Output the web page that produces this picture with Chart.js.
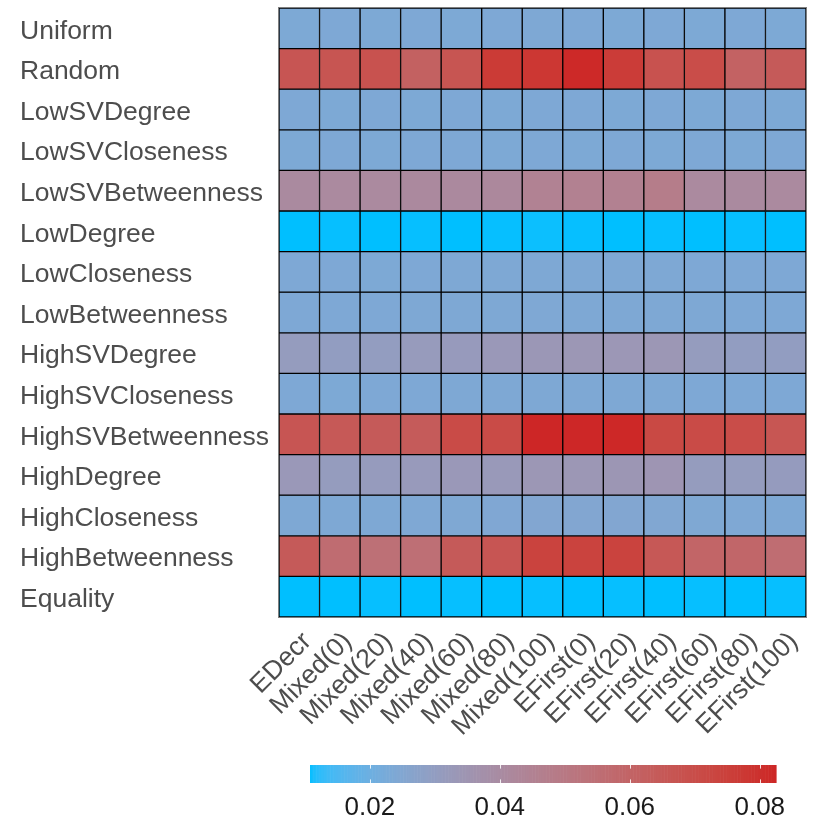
<!DOCTYPE html>
<html><head><meta charset="utf-8">
<script src="https://cdn.jsdelivr.net/npm/chart.js@4"></script>
<style>
html,body{margin:0;padding:0;background:#fff;}
#wrap{position:relative;width:830px;height:830px;}
#main{position:absolute;left:0;top:0;}
#bar{position:absolute;left:0;top:740px;}
</style></head><body>
<div id="wrap"><canvas id="main" width="830" height="830"></canvas><canvas id="bar" width="830" height="90"></canvas></div>
<script>
const columns = ['EDecr','Mixed(0)','Mixed(20)','Mixed(40)','Mixed(60)','Mixed(80)','Mixed(100)','EFirst(0)','EFirst(20)','EFirst(40)','EFirst(60)','EFirst(80)','EFirst(100)'];
const rows = ['Uniform','Random','LowSVDegree','LowSVCloseness','LowSVBetweenness','LowDegree','LowCloseness','LowBetweenness','HighSVDegree','HighSVCloseness','HighSVBetweenness','HighDegree','HighCloseness','HighBetweenness','Equality'];

const uniform           = [0.0237,0.0238,0.0237,0.0238,0.0237,0.0238,0.0239,0.0238,0.0237,0.0238,0.0237,0.0238,0.0237];
const random            = [0.0667,0.0670,0.0680,0.0617,0.0670,0.0768,0.0780,0.0818,0.0763,0.0682,0.0703,0.0610,0.0646];
const lowSVDegree       = [0.0238,0.0237,0.0238,0.0237,0.0238,0.0237,0.0238,0.0238,0.0237,0.0238,0.0237,0.0238,0.0237];
const lowSVCloseness    = [0.0237,0.0238,0.0237,0.0238,0.0238,0.0237,0.0238,0.0237,0.0238,0.0237,0.0238,0.0237,0.0238];
const lowSVBetweenness  = [0.0408,0.0410,0.0410,0.0412,0.0414,0.0418,0.0450,0.0455,0.0455,0.0478,0.0410,0.0408,0.0409];
const lowDegree         = [0.0108,0.0109,0.0108,0.0109,0.0108,0.0109,0.0110,0.0109,0.0108,0.0109,0.0108,0.0109,0.0108];
const lowCloseness      = [0.0238,0.0238,0.0237,0.0238,0.0239,0.0239,0.0240,0.0240,0.0239,0.0239,0.0238,0.0238,0.0238];
const lowBetweenness    = [0.0238,0.0238,0.0238,0.0239,0.0240,0.0240,0.0241,0.0240,0.0240,0.0240,0.0239,0.0238,0.0238];
const highSVDegree      = [0.0309,0.0300,0.0302,0.0316,0.0317,0.0330,0.0334,0.0337,0.0336,0.0337,0.0309,0.0300,0.0301];
const highSVCloseness   = [0.0238,0.0237,0.0238,0.0238,0.0239,0.0239,0.0240,0.0239,0.0239,0.0239,0.0238,0.0238,0.0238];
const highSVBetweenness = [0.0667,0.0653,0.0646,0.0643,0.0710,0.0710,0.0825,0.0822,0.0820,0.0718,0.0710,0.0703,0.0665];
const highDegree        = [0.0330,0.0310,0.0313,0.0320,0.0328,0.0326,0.0337,0.0338,0.0340,0.0345,0.0310,0.0310,0.0311];
const highCloseness     = [0.0240,0.0240,0.0240,0.0241,0.0242,0.0244,0.0250,0.0250,0.0250,0.0248,0.0242,0.0241,0.0240];
const highBetweenness   = [0.0646,0.0563,0.0545,0.0550,0.0645,0.0667,0.0739,0.0740,0.0740,0.0655,0.0596,0.0590,0.0560];
const equality          = [0.0108,0.0108,0.0109,0.0108,0.0109,0.0108,0.0109,0.0108,0.0109,0.0108,0.0109,0.0108,0.0109];

const colorbarTicks = [0.02,0.04,0.06,0.08];

const rowValues = [uniform,random,lowSVDegree,lowSVCloseness,lowSVBetweenness,lowDegree,lowCloseness,lowBetweenness,highSVDegree,highSVCloseness,highSVBetweenness,highDegree,highCloseness,highBetweenness,equality];
const allVals = rowValues.flat();
const vmin = Math.min(...allVals), vmax = Math.max(...allVals);

// Lab interpolation (deepskyblue -> firebrick3)
function toLin(c){c/=255;return c<=0.04045?c/12.92:Math.pow((c+0.055)/1.055,2.4);}
function toS(c){c=c<=0.0031308?12.92*c:1.055*Math.pow(c,1/2.4)-0.055;return Math.round(Math.max(0,Math.min(1,c))*255);}
const Wn=[0.95047,1,1.08883];
function fLab(t){return t>0.008856?Math.cbrt(t):7.787*t+16/116;}
function fInv(t){const t3=t*t*t;return t3>0.008856?t3:(t-16/116)/7.787;}
function rgb2lab(c){const r=toLin(c[0]),g=toLin(c[1]),b=toLin(c[2]);
  const X=(0.4124*r+0.3576*g+0.1805*b)/Wn[0],Y=(0.2126*r+0.7152*g+0.0722*b)/Wn[1],Z=(0.0193*r+0.1192*g+0.9505*b)/Wn[2];
  const fx=fLab(X),fy=fLab(Y),fz=fLab(Z);return [116*fy-16,500*(fx-fy),200*(fy-fz)];}
function lab2rgb(l){const fy=(l[0]+16)/116,fx=fy+l[1]/500,fz=fy-l[2]/200;
  const X=fInv(fx)*Wn[0],Y=fInv(fy)*Wn[1],Z=fInv(fz)*Wn[2];
  const r=3.2406*X-1.5372*Y-0.4986*Z,g=-0.9689*X+1.8758*Y+0.0415*Z,b=0.0557*X-0.2040*Y+1.0570*Z;
  return [toS(r),toS(g),toS(b)];}
const labLow=rgb2lab([0,191,255]), labHigh=rgb2lab([205,38,38]);
function colorFor(v){let t=(v-vmin)/(vmax-vmin);t=Math.max(0,Math.min(1,t));
  const c=lab2rgb([0,1,2].map(k=>labLow[k]+(labHigh[k]-labLow[k])*t));return `rgb(${c[0]},${c[1]},${c[2]})`;}

const FONT='"Liberation Sans", Arial, sans-serif';

const framePlugin={id:'frame',afterDatasetsDraw(chart){const a=chart.chartArea,ctx=chart.ctx;ctx.save();
  ctx.strokeStyle='#7f7f7f';ctx.lineWidth=1;ctx.strokeRect(a.left-0.5,a.top-0.5,a.right-a.left+1,a.bottom-a.top+1);ctx.restore();}};

new Chart(document.getElementById('main'),{
  type:'bar',
  data:{labels:columns,datasets:rows.map((r,i)=>({label:r,data:columns.map(()=>1),backgroundColor:rowValues[i].map(colorFor),
    borderColor:'#000',borderWidth:1,borderSkipped:false,categoryPercentage:1,barPercentage:1,stack:'s'}))},
  options:{responsive:false,animation:false,devicePixelRatio:1,
    layout:{padding:{left:20,right:24,top:8,bottom:0}},
    plugins:{legend:{display:false},tooltip:{enabled:false}},
    scales:{
      x:{stacked:true,grid:{display:false,drawTicks:false},border:{display:false},
        ticks:{minRotation:45,maxRotation:45,autoSkip:false,padding:9,labelOffset:8,color:'#4D4D4D',font:{family:FONT,size:26.5}},
        afterFit(s){s.height=213;s.paddingLeft=0;s.paddingRight=0;}},
      y:{stacked:true,min:0,max:15,reverse:true,grid:{display:false,drawTicks:false},border:{display:false},
        afterBuildTicks(s){s.ticks=rows.map((_,i)=>({value:i+0.5}));},
        ticks:{crossAlign:'far',autoSkip:false,labelOffset:3,color:'#4D4D4D',font:{family:FONT,size:26.5},callback:(v)=>rows[Math.floor(v)]},
        afterFit(s){s.width=259;s.paddingTop=0;s.paddingBottom=0;}}
    }},
  plugins:[framePlugin]
});

const gradientPlugin={id:'grad',beforeDatasetsDraw(chart){const x=chart.scales.x,a=chart.chartArea,ctx=chart.ctx;ctx.save();
  const N=300;for(let i=0;i<N;i++){const v0=vmin+(vmax-vmin)*i/N,v1=vmin+(vmax-vmin)*(i+1)/N;
    const x0=x.getPixelForValue(v0),x1=x.getPixelForValue(v1);ctx.fillStyle=colorFor((v0+v1)/2);ctx.fillRect(x0,a.top,x1-x0+0.6,a.bottom-a.top);}
  ctx.strokeStyle='rgba(255,255,255,0.85)';ctx.lineWidth=1;const h=(a.bottom-a.top)/5;
  colorbarTicks.forEach(v=>{const px=Math.round(x.getPixelForValue(v))+0.5;ctx.beginPath();ctx.moveTo(px,a.top);ctx.lineTo(px,a.top+h);
    ctx.moveTo(px,a.bottom-h);ctx.lineTo(px,a.bottom);ctx.stroke();});
  ctx.restore();}};

new Chart(document.getElementById('bar'),{
  type:'scatter',data:{datasets:[{data:[]}]},
  options:{responsive:false,animation:false,devicePixelRatio:1,
    layout:{padding:{left:310,right:54,top:25,bottom:0}},
    plugins:{legend:{display:false},tooltip:{enabled:false}},
    scales:{
      x:{type:'linear',min:vmin,max:vmax,grid:{display:false,drawTicks:false},border:{display:false},
        afterBuildTicks(s){s.ticks=colorbarTicks.map(v=>({value:v}));},
        ticks:{padding:9,color:'#1a1a1a',font:{family:FONT,size:26},callback:(v)=>v.toFixed(2)},
        afterFit(s){s.height=47;}},
      y:{display:false,min:0,max:1}
    }},
  plugins:[gradientPlugin]
});
</script>
</body></html>
